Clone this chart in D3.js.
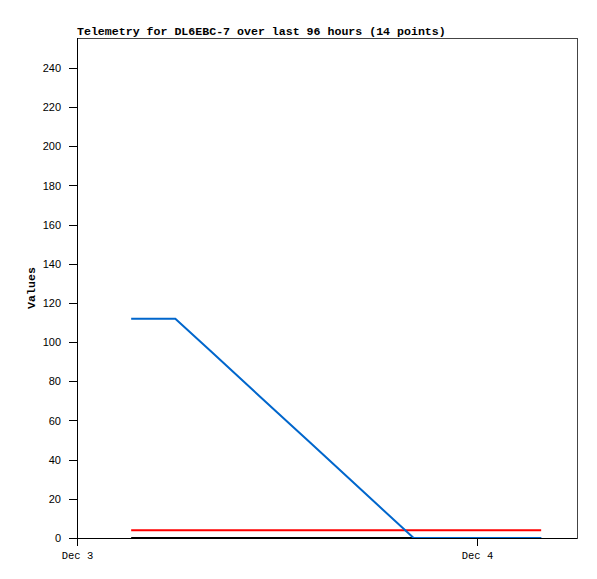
<!DOCTYPE html>
<html>
<head>
<meta charset="utf-8">
<script src="https://cdn.jsdelivr.net/npm/d3@7"></script>
<style>
  html, body { margin: 0; padding: 0; background: #fff; }
  svg { display: block; }
</style>
</head>
<body>
<svg id="chart" width="597" height="579"></svg>
<script>
// ---- data (hours after Dec 3 00:00) ----
const titleText = "Telemetry for DL6EBC-7 over last 96 hours (14 points)";
const yLabel = "Values";
const hours = [3.25, 5.9, 8.0, 10.0, 12.0, 14.0, 16.0, 18.0, 20.2, 22.0, 24.0, 25.5, 26.8, 27.85];
const seriesBlue  = [112, 112, 95.6, 79.9, 64.2, 48.6, 32.9, 17.2, 0, 0, 0, 0, 0, 0];
const seriesRed   = [4, 4, 4, 4, 4, 4, 4, 4, 4, 4, 4, 4, 4, 4];
const seriesBlack = [0, 0, 0, 0, 0, 0, 0, 0, 0, 0, 0, 0, 0, 0];
const yTicks = [0, 20, 40, 60, 80, 100, 120, 140, 160, 180, 200, 220, 240];
const xTickLabels = ["Dec 3", "Dec 4"];
const xTickHours = [0, 24];

const base = new Date(2020, 11, 3, 0, 0, 0);
const toDate = h => new Date(base.getTime() + h * 3600 * 1000);

const svg = d3.select("#chart");
const L = 77, R = 577, T = 38, B = 538;

const x = d3.scaleTime().domain([toDate(0), toDate(30)]).range([L, R]);
const y = d3.scaleLinear().domain([0, 255.3]).range([B, T]);

// frame
svg.append("rect").attr("x", L).attr("y", T).attr("width", R - L).attr("height", B - T)
  .attr("fill", "none").attr("stroke", "#444").attr("stroke-width", 1)
  .attr("shape-rendering", "crispEdges");

// series
const series = [
  {vals: seriesBlack, color: "#000000"},
  {vals: seriesRed, color: "#ff0000"},
  {vals: seriesBlue, color: "#0066cc"}
];
const line = d3.line().x(d => x(toDate(d[0]))).y(d => y(d[1]));
series.forEach(s => {
  svg.append("path")
    .datum(hours.map((h, i) => [h, s.vals[i]]))
    .attr("d", line)
    .attr("fill", "none")
    .attr("stroke", s.color)
    .attr("stroke-width", 2);
});

// y axis
const yAxis = d3.axisLeft(y).tickValues(yTicks).tickSize(8).tickPadding(8).tickFormat(d3.format("d"));
const gy = svg.append("g").attr("transform", `translate(${L},0)`).call(yAxis);
gy.select(".domain").remove();
gy.append("line").attr("x1", 0).attr("x2", 0).attr("y1", T).attr("y2", B).attr("stroke", "#000")
  .attr("shape-rendering", "crispEdges");
gy.selectAll(".tick line").attr("stroke", "#000").attr("shape-rendering", "crispEdges");
gy.selectAll(".tick text").attr("fill", "#000")
  .style("font-family", "'Liberation Sans', Arial, sans-serif").style("font-size", "11px");

// x axis
const xAxis = d3.axisBottom(x).tickValues(xTickHours.map(toDate)).tickSize(8).tickPadding(6)
  .tickFormat((d, i) => xTickLabels[i]);
const gx = svg.append("g").attr("transform", `translate(0,${B})`).call(xAxis);
gx.select(".domain").remove();
gx.append("line").attr("x1", L).attr("x2", R).attr("y1", 0).attr("y2", 0).attr("stroke", "#000")
  .attr("shape-rendering", "crispEdges");
gx.selectAll(".tick line").attr("stroke", "#000").attr("shape-rendering", "crispEdges");
gx.selectAll(".tick text").attr("fill", "#000")
  .style("font-family", "'Liberation Mono', 'DejaVu Sans Mono', monospace").style("font-size", "10.5px");

// title
svg.append("text").attr("x", L).attr("y", 35).text(titleText)
  .style("font-family", "'Liberation Mono', 'DejaVu Sans Mono', monospace")
  .style("font-size", "11.6px").style("font-weight", "bold").attr("fill", "#000");

// y label
svg.append("text")
  .attr("transform", `translate(35,${(T + B) / 2}) rotate(-90)`)
  .attr("text-anchor", "middle")
  .text(yLabel)
  .style("font-family", "'Liberation Mono', 'DejaVu Sans Mono', monospace")
  .style("font-size", "11.6px").style("font-weight", "bold").attr("fill", "#000");
</script>
</body>
</html>
